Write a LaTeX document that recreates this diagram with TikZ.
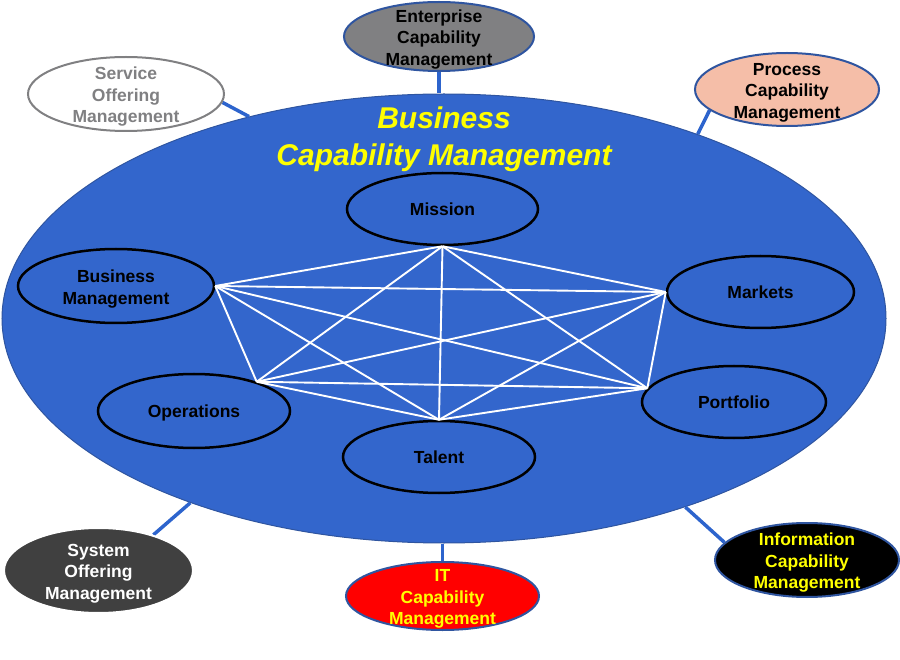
\documentclass[tikz,border=0pt]{standalone}
\usepackage{fontspec}
\setmainfont{Liberation Sans}
\usetikzlibrary{shapes.geometric}
\pgfdeclarelayer{bg}
\pgfsetlayers{bg,main}
\definecolor{bigblue}{RGB}{51,102,204}
\definecolor{edgeblue}{RGB}{47,85,160}
\definecolor{linkblue}{RGB}{45,100,205}
\definecolor{midgray}{RGB}{128,128,130}
\definecolor{salmon}{RGB}{245,190,168}
\definecolor{darkfill}{RGB}{64,64,64}
\definecolor{ylw}{RGB}{255,255,0}
\tikzset{
  lbl/.style={font=\fontsize{17.5}{21.5}\selectfont\bfseries, align=center},
  inner/.style={ellipse, draw=black, line width=2.5pt, inner sep=0pt},
  outer/.style={ellipse, draw=edgeblue, line width=2pt, inner sep=0pt},
  txt/.style={lbl, yshift=-3pt},
  link/.style={draw=linkblue, line width=3.5pt},
  web/.style={draw=white, line width=1.9pt},
}
\begin{document}
\begin{tikzpicture}[x=1pt,y=-1pt]
\useasboundingbox (0,0) rectangle (900,660);
% outer ellipses
\node[outer, fill=midgray, minimum width=190pt, minimum height=69pt,
  label={[txt]center:{Enterprise\\Capability\\Management}}] (ECM) at (439,36.5) {};
\node[outer, fill=white, draw=midgray, minimum width=196pt, minimum height=74pt,
  label={[txt,text=midgray]center:{Service\\Offering\\Management}}] (SOM) at (126,94) {};
\node[outer, fill=salmon, minimum width=184pt, minimum height=73pt,
  label={[txt]center:{Process\\Capability\\Management}}] (PCM) at (787,89.5) {};
\node[outer, fill=darkfill, draw=white, minimum width=189pt, minimum height=85pt,
  label={[txt,text=white]center:{System\\Offering\\Management}}] (SYS) at (98.5,570.5) {};
\node[outer, fill=red, minimum width=193pt, minimum height=68pt,
  label={[txt,text=ylw]center:{IT\\Capability\\Management}}] (ITC) at (442.5,596) {};
\node[outer, fill=black, minimum width=184pt, minimum height=74pt,
  label={[txt,text=ylw]center:{Information\\Capability\\Management}}] (ICM) at (807,560) {};
% big ellipse and connectors underneath
\begin{pgfonlayer}{bg}
\node[ellipse, fill=bigblue, draw=edgeblue, line width=1pt, minimum width=884pt, minimum height=449pt, inner sep=0pt] (BCM) at (444,318.5) {};
\draw[link] (ECM.south) -- (ECM.south |- BCM.north);
\draw[link] (SOM.-5) -- (BCM.134);
\draw[link] (PCM.195) -- (BCM.36);
\draw[link] (SYS.33) -- (BCM.216);
\draw[link] (ITC.north) -- (ITC.north |- BCM.south);
\draw[link] (ICM.168) -- (BCM.-38);
\end{pgfonlayer}
% title
\node[font=\fontsize{30}{37}\selectfont\bfseries\itshape, text=ylw, align=center] (TTL) at (444,139) {Business\\Capability Management};
% inner ellipses
\node[inner, lbl, minimum width=191pt, minimum height=72pt] (MIS) at (442.5,209) {Mission};
\node[inner, minimum width=196pt, minimum height=74pt,
  label={[txt]center:{Business\\Management}}] (BMG) at (116,286) {};
\node[inner, lbl, minimum width=187pt, minimum height=72pt] (MKT) at (760.5,292) {Markets};
\node[inner, minimum width=192pt, minimum height=74pt,
  label={[lbl,yshift=-2pt]center:Operations}] (OPS) at (194,411) {};
\node[inner, lbl, minimum width=184pt, minimum height=72pt] (POR) at (734,402) {Portfolio};
\node[inner, lbl, minimum width=192pt, minimum height=72pt] (TAL) at (439,457) {Talent};
% web
\coordinate (vM) at (MIS.south);
\coordinate (vB) at (BMG.east);
\coordinate (vK) at (MKT.west);
\coordinate (vO) at (OPS.25);
\coordinate (vP) at (POR.171);
\coordinate (vT) at (TAL.north);
\foreach \a/\b in {vM/vB,vM/vK,vM/vO,vM/vP,vM/vT,vB/vK,vB/vO,vB/vP,vB/vT,vK/vO,vK/vP,vK/vT,vO/vP,vO/vT,vP/vT}
  \draw[web] (\a) -- (\b);
\end{tikzpicture}
\end{document}
